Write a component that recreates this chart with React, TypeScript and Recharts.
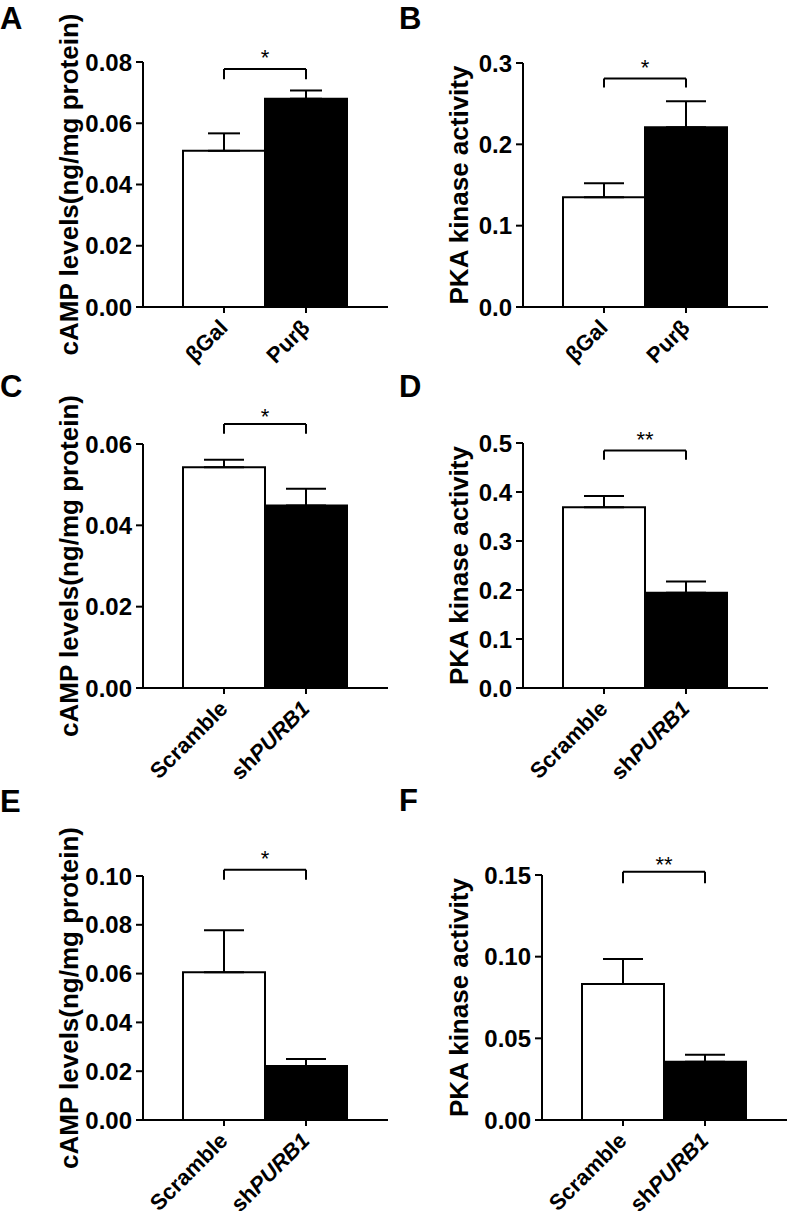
import React from 'react';
import { BarChart, Bar, XAxis, YAxis, ErrorBar, Cell, ReferenceLine } from 'recharts';

const FONT = '"Liberation Sans", Arial, Helvetica, sans-serif';

// categories
const groupsOE = ['βGal', 'Purβ'];
const groupsKD = ['Scramble', 'shPURB1'];

// Panel A: cAMP, overexpression
const meanA = [0.051, 0.068];
const semA = [0.0057, 0.0027];
const ticksA = [0, 0.02, 0.04, 0.06, 0.08];
const bracketA = [0.0777, 0.0744];
// Panel B: PKA, overexpression
const meanB = [0.135, 0.221];
const semB = [0.017, 0.032];
const ticksB = [0, 0.1, 0.2, 0.3];
const bracketB = [0.2808, 0.2698];
// Panel C: cAMP, knockdown
const meanC = [0.0543, 0.0449];
const semC = [0.0018, 0.0041];
const ticksC = [0, 0.02, 0.04, 0.06];
const bracketC = [0.0649, 0.0625];
// Panel D: PKA, knockdown
const meanD = [0.369, 0.1945];
const semD = [0.023, 0.023];
const ticksD = [0, 0.1, 0.2, 0.3, 0.4, 0.5];
const bracketD = [0.4849, 0.4659];
// Panel E: cAMP, knockdown
const meanE = [0.0606, 0.0221];
const semE = [0.0172, 0.0029];
const ticksE = [0, 0.02, 0.04, 0.06, 0.08, 0.1];
const bracketE = [0.1026, 0.0985];
// Panel F: PKA, knockdown
const meanF = [0.0833, 0.0357];
const semF = [0.0153, 0.0043];
const ticksF = [0, 0.05, 0.1, 0.15];
const bracketF = [0.152, 0.1449];

const significance = ['*', '*', '*', '**', '*', '**'];
const titleCAMP = 'cAMP levels(ng/mg protein)';
const titlePKA = 'PKA kinase activity';
const barColors = ['#ffffff', '#000000'];

const TICK_FS = 24;
const XLAB_FS = 22;
const TITLE_FS = 26;
const LETTER_FS = 31;
const STAR_FS = 22;

type Box = {
  px: number; py: number; w: number; h: number;
  l: number; t: number; r: number; b: number;
  titleX: number; letterX: number; letterY: number;
  cap: number; starGap: number;
};

const XH = 50;

const XTick = (props: any) => {
  const { x, y, payload } = props;
  const ax = x + 5;
  const ay = y + 14;
  const v = String(payload.value);
  const content = v.startsWith('sh') ? (
    <>
      <tspan>sh</tspan>
      <tspan fontStyle="italic">{v.slice(2)}</tspan>
    </>
  ) : (
    v
  );
  return (
    <text
      x={ax}
      y={ay}
      transform={`rotate(-45, ${ax}, ${ay})`}
      textAnchor="end"
      fontFamily={FONT}
      fontWeight="bold"
      fontSize={XLAB_FS}
      fill="#000"
    >
      {content}
    </text>
  );
};

type PanelProps = {
  cats: string[];
  means: number[];
  sems: number[];
  ticks: number[];
  decimals: number;
  bracket: number[];
  stars: string;
  box: Box;
};

const Panel = ({ cats, means, sems, ticks, decimals, bracket, stars, box }: PanelProps) => {
  const data = cats.map((c, i) => ({ cat: c, v: means[i], e: [0, sems[i]] }));
  const margin = {
    top: box.t - box.py,
    right: box.px + box.w - box.r,
    bottom: box.py + box.h - box.b - XH,
    left: 0,
  };
  const starOffset = box.starGap - 0.57 * STAR_FS;
  return (
    <div style={{ position: 'absolute', left: box.px, top: box.py }}>
      <BarChart
        width={box.w}
        height={box.h}
        data={data}
        margin={margin}
        barCategoryGap={0}
        barGap={0}
      >
        <XAxis
          dataKey="cat"
          type="category"
          height={XH}
          padding={{ left: 40, right: 41 }}
          axisLine={{ stroke: '#000', strokeWidth: 2 }}
          tickLine={{ stroke: '#000', strokeWidth: 2 }}
          tickSize={6}
          interval={0}
          tick={<XTick />}
        />
        <YAxis
          type="number"
          width={box.l - box.px}
          domain={[0, ticks[ticks.length - 1]]}
          ticks={ticks}
          interval={0}
          allowDataOverflow
          tickFormatter={(v: number) => v.toFixed(decimals)}
          axisLine={{ stroke: '#000', strokeWidth: 2 }}
          tickLine={{ stroke: '#000', strokeWidth: 2 }}
          tickSize={7}
          tickMargin={4}
          tick={{ fill: '#000', fontFamily: FONT, fontWeight: 'bold', fontSize: TICK_FS }}
        />
        <Bar dataKey="v" stroke="#000" strokeWidth={2} isAnimationActive={false}>
          {data.map((d, i) => (
            <Cell key={d.cat} fill={barColors[i]} />
          ))}
          <ErrorBar dataKey="e" direction="y" width={box.cap} stroke="#000" strokeWidth={2} />
        </Bar>
        <ReferenceLine
          segment={[{ x: cats[0], y: bracket[0] }, { x: cats[1], y: bracket[0] }]}
          stroke="#000"
          strokeWidth={2}
          ifOverflow="visible"
          label={{ value: stars, position: 'top', offset: starOffset, fill: '#000', fontSize: STAR_FS, fontFamily: FONT }}
        />
        <ReferenceLine
          segment={[{ x: cats[0], y: bracket[0] }, { x: cats[0], y: bracket[1] }]}
          stroke="#000"
          strokeWidth={2}
          ifOverflow="visible"
        />
        <ReferenceLine
          segment={[{ x: cats[1], y: bracket[0] }, { x: cats[1], y: bracket[1] }]}
          stroke="#000"
          strokeWidth={2}
          ifOverflow="visible"
        />
      </BarChart>
    </div>
  );
};

const boxes: Box[] = [
  { px: 0, py: 0, w: 393, h: 400, l: 143, t: 62, r: 388, b: 307, titleX: 78, letterX: 0, letterY: 28.5, cap: 16, starGap: 17 },
  { px: 393, py: 0, w: 394, h: 400, l: 523, t: 63, r: 768, b: 307, titleX: 468, letterX: 399, letterY: 28.5, cap: 20, starGap: 16.6 },
  { px: 0, py: 370, w: 393, h: 440, l: 143, t: 444, r: 388, b: 688, titleX: 78, letterX: 0, letterY: 397, cap: 20, starGap: 13 },
  { px: 393, py: 370, w: 394, h: 440, l: 523, t: 443, r: 768, b: 688, titleX: 468, letterX: 399, letterY: 397, cap: 20, starGap: 15.7 },
  { px: 0, py: 780, w: 393, h: 438, l: 143, t: 876, r: 388, b: 1120, titleX: 78, letterX: 0, letterY: 812, cap: 20, starGap: 16 },
  { px: 393, py: 780, w: 394, h: 438, l: 542, t: 875, r: 787, b: 1120, titleX: 468, letterX: 399, letterY: 811, cap: 20, starGap: 12 },
];

const letters = ['A', 'B', 'C', 'D', 'E', 'F'];
const titles = [titleCAMP, titlePKA, titleCAMP, titlePKA, titleCAMP, titlePKA];

export default function App() {
  const panels: PanelProps[] = [
    { cats: groupsOE, means: meanA, sems: semA, ticks: ticksA, decimals: 2, bracket: bracketA, stars: significance[0], box: boxes[0] },
    { cats: groupsOE, means: meanB, sems: semB, ticks: ticksB, decimals: 1, bracket: bracketB, stars: significance[1], box: boxes[1] },
    { cats: groupsKD, means: meanC, sems: semC, ticks: ticksC, decimals: 2, bracket: bracketC, stars: significance[2], box: boxes[2] },
    { cats: groupsKD, means: meanD, sems: semD, ticks: ticksD, decimals: 1, bracket: bracketD, stars: significance[3], box: boxes[3] },
    { cats: groupsKD, means: meanE, sems: semE, ticks: ticksE, decimals: 2, bracket: bracketE, stars: significance[4], box: boxes[4] },
    { cats: groupsKD, means: meanF, sems: semF, ticks: ticksF, decimals: 2, bracket: bracketF, stars: significance[5], box: boxes[5] },
  ];
  return (
    <div style={{ position: 'absolute', left: 0, top: 0, width: 787, height: 1218, background: '#fff', overflow: 'hidden' }}>
      <style>{'.recharts-surface{overflow:visible}'}</style>
      {panels.map((p, i) => (
        <Panel key={letters[i]} {...p} />
      ))}
      <svg
        width={787}
        height={1218}
        style={{ position: 'absolute', left: 0, top: 0, pointerEvents: 'none' }}
      >
        {boxes.map((b, i) => {
          const cy = (b.t + b.b) / 2;
          return (
            <g key={letters[i]}>
              <text x={b.letterX} y={b.letterY} fontFamily={FONT} fontWeight="bold" fontSize={LETTER_FS} fill="#000">
                {letters[i]}
              </text>
              <text
                x={b.titleX}
                y={cy}
                transform={`rotate(-90, ${b.titleX}, ${cy})`}
                textAnchor="middle"
                fontFamily={FONT}
                fontWeight="bold"
                fontSize={TITLE_FS}
                fill="#000"
              >
                {titles[i]}
              </text>
            </g>
          );
        })}
      </svg>
    </div>
  );
}
